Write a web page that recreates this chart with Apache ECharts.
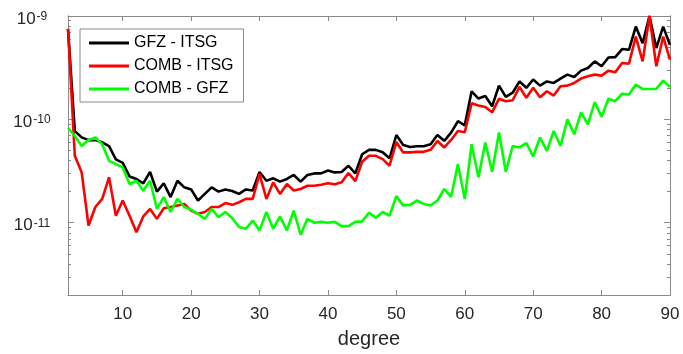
<!DOCTYPE html>
<html><head><meta charset="utf-8">
<script src="https://cdn.jsdelivr.net/npm/echarts@6/dist/echarts.min.js"></script>
<style>html,body{margin:0;padding:0;background:#fff}#c{width:683px;height:354px}</style>
</head><body><div id="c"></div>
<script>
var degrees = [];
for (var d = 2; d <= 90; d++) degrees.push(d);

var gfzItsg = [
  7.5e-10, 7.7e-11, 6.7e-11, 6.3e-11, 6.3e-11, 6.0e-11, 5.5e-11, 4.1e-11, 3.8e-11,
  2.8e-11, 2.65e-11, 2.4e-11, 3.1e-11, 2.0e-11, 2.4e-11, 1.77e-11, 2.55e-11, 2.2e-11, 2.1e-11,
  1.64e-11, 1.9e-11, 2.2e-11, 2.0e-11, 2.1e-11, 2.03e-11, 1.9e-11, 2.1e-11, 2.05e-11, 3.1e-11,
  2.55e-11, 2.69e-11, 2.5e-11, 2.65e-11, 2.9e-11, 2.5e-11, 2.9e-11, 3.0e-11, 3.0e-11, 3.2e-11,
  3.07e-11, 3.1e-11, 3.56e-11, 3.0e-11, 4.6e-11, 5.07e-11, 5.07e-11, 4.8e-11, 4.2e-11, 7.06e-11,
  5.66e-11, 5.4e-11, 5.5e-11, 5.5e-11, 5.75e-11, 7.06e-11, 6.2e-11, 7.45e-11, 9.6e-11, 8.75e-11,
  1.87e-10, 1.59e-10, 1.68e-10, 1.34e-10, 2.12e-10, 1.65e-10, 1.81e-10, 2.33e-10, 2.02e-10, 2.43e-10,
  2.12e-10, 2.33e-10, 2.25e-10, 2.48e-10, 2.71e-10, 2.57e-10, 2.96e-10, 3.14e-10, 3.64e-10, 3.26e-10,
  3.97e-10, 4.0e-10, 4.79e-10, 4.71e-10, 7.9e-10, 5.46e-10, 1.0e-9, 4.9e-10, 7.9e-10, 5.26e-10
];
var combItsg = [
  7.5e-10, 4.44e-11, 3.07e-11, 9.4e-12, 1.42e-11, 1.70e-11, 2.75e-11, 1.17e-11, 1.64e-11,
  1.17e-11, 8.1e-12, 1.15e-11, 1.36e-11, 1.09e-11, 1.38e-11, 1.42e-11, 1.47e-11, 1.52e-11, 1.31e-11,
  1.22e-11, 1.27e-11, 1.42e-11, 1.42e-11, 1.55e-11, 1.49e-11, 1.58e-11, 1.70e-11, 1.70e-11, 2.96e-11,
  1.70e-11, 2.46e-11, 1.9e-11, 2.37e-11, 2.05e-11, 2.12e-11, 2.28e-11, 2.28e-11, 2.33e-11, 2.41e-11,
  2.36e-11, 2.46e-11, 3.03e-11, 2.53e-11, 3.89e-11, 4.44e-11, 4.44e-11, 4.12e-11, 3.56e-11, 6.05e-11,
  4.79e-11, 4.79e-11, 4.85e-11, 4.85e-11, 5.07e-11, 6.18e-11, 5.35e-11, 6.32e-11, 7.72e-11, 7.5e-11,
  1.43e-10, 1.36e-10, 1.32e-10, 1.17e-10, 1.58e-10, 1.5e-10, 1.53e-10, 2.06e-10, 1.62e-10, 2.02e-10,
  1.64e-10, 1.87e-10, 1.70e-10, 2.09e-10, 2.12e-10, 2.25e-10, 2.48e-10, 2.61e-10, 2.71e-10, 2.65e-10,
  2.96e-10, 2.85e-10, 3.51e-10, 3.45e-10, 6.32e-10, 3.64e-10, 1.0e-9, 3.26e-10, 6.32e-10, 3.78e-10
];
var combGfz = [
  8.3e-11, 6.9e-11, 5.53e-11, 6.32e-11, 6.67e-11, 5.75e-11, 3.97e-11, 3.69e-11, 3.43e-11,
  2.37e-11, 2.55e-11, 2.05e-11, 2.55e-11, 1.36e-11, 1.77e-11, 1.27e-11, 1.70e-11, 1.42e-11, 1.34e-11,
  1.22e-11, 1.09e-11, 1.36e-11, 1.135e-11, 1.27e-11, 1.11e-11, 9.1e-12, 8.75e-12, 1.05e-11, 8.43e-12,
  1.27e-11, 8.75e-12, 1.15e-11, 8.43e-12, 1.31e-11, 7.67e-12, 1.09e-11, 1.0e-11, 1.02e-11, 1.0e-11,
  1.02e-11, 9.27e-12, 9.27e-12, 1.02e-11, 1.03e-11, 1.25e-11, 1.12e-11, 1.27e-11, 1.17e-11, 1.81e-11,
  1.47e-11, 1.49e-11, 1.64e-11, 1.52e-11, 1.47e-11, 1.64e-11, 2.12e-11, 1.78e-11, 3.69e-11, 1.70e-11,
  5.75e-11, 2.75e-11, 5.97e-11, 3.11e-11, 7.45e-11, 3.11e-11, 5.53e-11, 5.35e-11, 5.88e-11, 4.38e-11,
  6.67e-11, 4.96e-11, 7.72e-11, 5.53e-11, 1.0e-10, 7.17e-11, 1.17e-10, 8.95e-11, 1.47e-10, 1.06e-10,
  1.58e-10, 1.5e-10, 1.77e-10, 1.74e-10, 2.17e-10, 1.97e-10, 1.97e-10, 1.97e-10, 2.37e-10, 2.06e-10
];

var seriesNames = ['GFZ - ITSG', 'COMB - ITSG', 'COMB - GFZ'];
var seriesColors = ['#000000', '#ff0000', '#00ff00'];
var xTickValues = [10, 20, 30, 40, 50, 60, 70, 80, 90];
var yMajorTicks = [1e-11, 1e-10, 1e-9];
var yMinorTicks = [3e-12, 4e-12, 5e-12, 6e-12, 7e-12, 8e-12, 9e-12,
  2e-11, 3e-11, 4e-11, 5e-11, 6e-11, 7e-11, 8e-11, 9e-11,
  2e-10, 3e-10, 4e-10, 5e-10, 6e-10, 7e-10, 8e-10, 9e-10];
var yMin = 2e-12, yMax = 1e-9;

var axisColor = '#8a8a8a';
var textColor = '#262626';
var font = 'Liberation Sans, Arial, Helvetica, sans-serif';

function pairs(vals) { return degrees.map(function (d, i) { return [d, vals[i]]; }); }

function xAx(pos, labels) {
  return {
    type: 'value', position: pos, min: 2, max: 90,
    axisLine: { show: true, onZero: false, lineStyle: { color: axisColor, width: 1 } },
    axisTick: { show: true, inside: true, length: 5, customValues: xTickValues, lineStyle: { color: axisColor } },
    axisLabel: labels ? { show: true, customValues: xTickValues, color: textColor, fontSize: 17, fontFamily: font, margin: 11 } : { show: false },
    splitLine: { show: false },
    name: labels ? 'degree' : '',
    nameLocation: 'middle', nameGap: 34,
    nameTextStyle: { color: textColor, fontSize: 20, fontFamily: font }
  };
}
function yAx(pos, ticks, len, labels) {
  return {
    type: 'log', logBase: 10, position: pos, min: yMin, max: yMax,
    axisLine: { show: true, onZero: false, lineStyle: { color: axisColor, width: 1 } },
    axisTick: { show: true, inside: true, length: len, customValues: ticks, lineStyle: { color: axisColor } },
    axisLabel: labels ? {
      show: true, customValues: yMajorTicks, align: 'center', margin: 36,
      padding: [6, 0, 0, 0],
      formatter: function (v) { return '{b|10}{s|' + Math.round(Math.log10(v)) + '}'; },
      rich: {
        b: { fontSize: 17, lineHeight: 17, color: textColor, fontFamily: font, verticalAlign: 'bottom' },
        s: { fontSize: 12, lineHeight: 12, color: textColor, fontFamily: font, verticalAlign: 'top', padding: [0, 0, 10, 1] }
      }
    } : { show: false },
    splitLine: { show: false }
  };
}

var chart = echarts.init(document.getElementById('c'), null, { renderer: 'canvas' });
chart.setOption({
  animation: false,
  backgroundColor: '#fff',
  grid: { left: 68, right: 13, top: 16, bottom: 57, containLabel: false },
  legend: {
    orient: 'vertical', left: 80, top: 29,
    data: seriesNames.map(function (n) { return { name: n, icon: 'rect' }; }),
    itemWidth: 40, itemHeight: 3, itemGap: 7,
    padding: [6, 10, 5, 9],
    borderColor: '#8a8a8a', borderWidth: 1, backgroundColor: '#fff',
    textStyle: { fontSize: 16, color: '#000', fontFamily: font }
  },
  xAxis: [xAx('bottom', true), xAx('top', false)],
  yAxis: [
    yAx('left', yMajorTicks, 6, true),
    yAx('left', yMinorTicks, 3, false),
    yAx('right', yMajorTicks, 6, false),
    yAx('right', yMinorTicks, 3, false)
  ],
  series: [gfzItsg, combItsg, combGfz].map(function (vals, i) {
    return {
      name: seriesNames[i], type: 'line', data: pairs(vals),
      xAxisIndex: 0, yAxisIndex: 0, symbol: 'none', clip: true,
      color: seriesColors[i],
      lineStyle: { color: seriesColors[i], width: 2.6 }
    };
  })
});
</script></body></html>
